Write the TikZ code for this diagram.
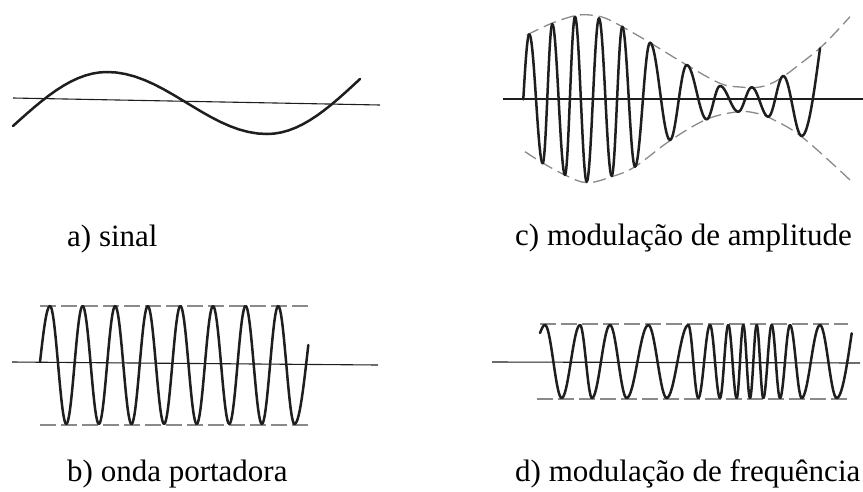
\documentclass[tikz,border=0pt]{standalone}
\usepackage{fontspec}
\setmainfont{Liberation Serif}
\definecolor{ink}{HTML}{1E1E1E}
\definecolor{envgray}{HTML}{8A8A8A}
\tikzset{
  wave/.style={draw=ink, line width=2.5pt, line cap=round, line join=round},
  axisline/.style={draw=ink, line width=1.1pt},
  envline/.style={draw=envgray, line width=1.3pt, dash pattern=on 13pt off 6pt},
  levelline/.style={draw=envgray, line width=1.1pt, dash pattern=on 16pt off 5pt},
  caption/.style={anchor=base west, inner sep=0pt, font=\fontsize{31}{37}\selectfont, text=black}
}
% half-cosine segments between successive extrema
\newcommand\halfwaves[1]{%
  \foreach \wXb/\wYb [remember=\wXb as \wXa, remember=\wYb as \wYa, count=\wI] in {#1}{%
    \ifnum\wI>1
      \draw[wave] plot[domain=0:1,samples=18,variable=\t]
        ({\wXa+\t*(\wXb-\wXa)},{(\wYa+\wYb)/2+(\wYa-\wYb)/2*cos(180*\t)});
    \fi
  }}
% start segment: steep start, flat at extremum
\newcommand\wavestart[4]{%
  \draw[wave] plot[domain=0:1,samples=14,variable=\t]
    ({#1+\t*(#3-#1)},{#2+(#4-#2)*sin(90*\t)});}
% end segment: flat at extremum, steep at end
\newcommand\waveend[4]{%
  \draw[wave] plot[domain=0:1,samples=14,variable=\t]
    ({#1+\t*(#3-#1)},{#2+(#4-#2)*(1-cos(90*\t))});}
\begin{document}
\begin{tikzpicture}[x=1pt,y=-1pt]
\useasboundingbox (0,0) rectangle (863,491);
\fill[white] (0,0) rectangle (863,491);

% ---------- a) sinal ----------
\coordinate (aL) at (13,98);
\coordinate (aR) at (380,105);
\draw[axisline] (aL) -- (aR);
\wavestart{13}{126}{107}{72}
\halfwaves{107/72, 267/134}
\waveend{267}{134}{360}{79}
\node[caption] (capa) at (67,246) {a) sinal};

% ---------- c) modulacao de amplitude ----------
\coordinate (cL) at (503,99);
\coordinate (cR) at (863,99);
\draw[axisline] (cL) -- (cR);
\draw[envline] plot[smooth,tension=0.6] coordinates {
  (526.7,35) (551.7,23.3) (575,15.7) (590,15) (605,18) (623.3,27.3)
  (650,42.7) (686.7,65) (720,83.3) (740,87) (760,87) (778,80) (800,64) (823.3,45) (850,16.7)};
\draw[envline] plot[smooth,tension=0.6] coordinates {
  (525,151.7) (543.3,163.3) (565,175) (586.7,182.7) (611.7,176.7) (635,166.7)
  (670,140.7) (706.7,119.3) (738.3,111.7) (756.7,113.3) (770,118) (801.7,136.7) (850,180)};
\wavestart{523.3}{99.3}{529.3}{34.3}
\halfwaves{529.3/34.3, 542.7/163.3, 552.3/24, 565/175, 575/16.7, 586.7/181.7,
  599/18.3, 611.7/176, 622.3/26.7, 635/166.7, 650/42.7, 670/140, 686.7/65,
  706.7/119.3, 720/86, 738.3/111.7, 751.7/87.3, 768.3/116.7, 783.3/76, 801.7/136}
\waveend{801.7}{136}{820}{48.3}
\node[caption] (capc) at (515,245) {c) modulação de amplitude};

% ---------- b) onda portadora ----------
\coordinate (bL) at (12,362);
\coordinate (bR) at (378,365);
\draw[axisline] (bL) -- (bR);
\draw[levelline] (40,306) -- (310,306);
\draw[levelline] (40,425) -- (310,425);
\wavestart{40}{362}{50}{306}
\halfwaves{50/306, 66.3/424, 82.6/306, 98.9/424, 115.2/306, 131.5/424,
  147.8/306, 164.1/424, 180.4/306, 196.7/424, 213/306, 229.3/424,
  245.6/306, 261.9/424, 278.2/306, 294.5/424}
\waveend{294.5}{424}{308.3}{345}
\node[caption] (capb) at (67,481) {b) onda portadora};

% ---------- d) modulacao de frequencia ----------
\coordinate (dL) at (492,362);
\coordinate (dR) at (860,363);
\draw[axisline] (dL) -- (dR);
\draw[levelline] (540,324) -- (848,324);
\draw[levelline] (537,399) -- (848,399);
\wavestart{540}{333}{545}{325}
\halfwaves{545/325, 561.7/398, 580/325, 592/398, 610/325, 626.7/398,
  648.3/325, 666.7/398, 688.3/325, 698.3/398, 710/325, 720/398,
  728.3/325, 736.7/398, 743.3/325, 750/398, 756.7/325, 763.3/398,
  771.7/325, 780/398, 790/325, 801.7/398, 820/325, 836.7/398}
\waveend{836.7}{398}{851.7}{333.3}
\node[caption] (capd) at (515,481) {d) modulação de frequência};
\end{tikzpicture}
\end{document}
